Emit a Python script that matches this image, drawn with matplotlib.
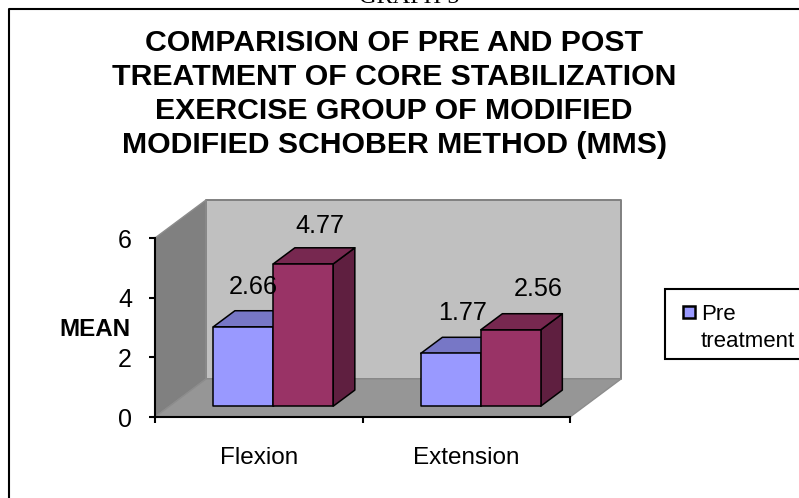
import matplotlib
matplotlib.use("Agg")
import matplotlib.pyplot as plt
from matplotlib.legend_handler import HandlerPatch
from matplotlib.lines import Line2D
from matplotlib.patches import Patch, Polygon, Rectangle

plt.rcParams['font.family'] = ['Liberation Sans', 'DejaVu Sans']

categories = ['Flexion', 'Extension']
pre_treatment = [2.66, 1.77]
post_treatment = [4.77, 2.56]
y_ticks = [0, 2, 4, 6]
title = ("COMPARISION OF PRE AND POST\nTREATMENT OF CORE STABILIZATION\n"
         "EXERCISE GROUP OF MODIFIED\nMODIFIED SCHOBER METHOD (MMS)")

W, H = 799, 498
fig = plt.figure(figsize=(W / 100, H / 100), dpi=100)
ax = fig.add_axes([155 / W, (H - 417) / H, 415 / W, 179 / H])
ax.set_xlim(0, 2)
ax.set_ylim(0, 6)

# fake 3d: depth 0 is the front axis, depth 1 the back wall
dx_depth = 51 / 207.5
dy_depth = 38 / (179 / 6)


def proj(x, y, d):
    return (x + d * dx_depth, y + d * dy_depth)


def face(pts, color, edge, lw=1.0, z=2):
    ax.add_patch(Polygon([proj(*p) for p in pts], closed=True, facecolor=color,
                         edgecolor=edge, linewidth=lw, clip_on=False, zorder=z,
                         joinstyle='round'))


face([(0, 0, 1), (2, 0, 1), (2, 6, 1), (0, 6, 1)], '#C0C0C0', '#808080', 1.4)
face([(0, 0, 0), (0, 0, 1), (0, 6, 1), (0, 6, 0)], '#808080', '#8C8C8C', 1.0)
face([(0, 0, 0), (2, 0, 0), (2, 0, 1), (0, 0, 1)], '#969696', '#8C8C8C', 1.0)


def bar3d(x0, x1, value, front, top, side, z):
    d0, d1 = 0.284, 0.708
    face([(x1, 0, d0), (x1, 0, d1), (x1, value, d1), (x1, value, d0)], side, 'black', 1.1, z)
    face([(x0, value, d0), (x1, value, d0), (x1, value, d1), (x0, value, d1)], top, 'black', 1.1, z)
    face([(x0, 0, d0), (x1, 0, d0), (x1, value, d0), (x0, value, d0)], front, 'black', 1.1, z + 0.1)


bar_w = 0.289
label_px = {(0, 0): (10, 40), (0, 1): (17, 38), (1, 0): (12, 40), (1, 1): (28, 41)}
for i in range(len(categories)):
    mid = i + 0.5
    bar3d(mid - bar_w, mid, pre_treatment[i], '#9999FF', '#7777C6', '#5F5FA0', 3)
    bar3d(mid, mid + bar_w, post_treatment[i], '#993366', '#772850', '#5F1F40', 4)
    for j, (v, xc) in enumerate([(pre_treatment[i], mid - bar_w / 2), (post_treatment[i], mid + bar_w / 2)]):
        ax.annotate(f'{v:.2f}', xy=proj(xc, v, 0.284), xytext=label_px[(i, j)],
                    textcoords='offset pixels', ha='center', va='center',
                    fontsize=18.2, color='black', zorder=8, annotation_clip=False)

for s in ['top', 'right']:
    ax.spines[s].set_visible(False)
for s in ['left', 'bottom']:
    ax.spines[s].set_linewidth(1.5)
    ax.spines[s].set_zorder(6)
ax.patch.set_visible(False)

ax.set_yticks(y_ticks)
ax.tick_params(axis='y', length=4.5, width=1.5, labelsize=18, pad=12)
ax.set_xticks([0, 1, 2])
ax.set_xticklabels([])
ax.tick_params(axis='x', which='major', length=4.5, width=1.5)
ax.set_xticks([0.5, 1.5], minor=True)
ax.set_xticklabels(categories, minor=True, fontsize=17.5)
ax.tick_params(axis='x', which='minor', length=0, pad=21.7)

fig.text(94.5 / W, (H - 329) / H, 'MEAN', fontsize=17.4, fontweight='bold', ha='center', va='center')
fig.text(394 / W, (H - 94) / H, title, fontsize=21.8, fontweight='bold', ha='center', va='center',
         linespacing=1.28)
# page caption above the chart, only its lower edge is inside the image
fig.text(409 / W, (H - 3) / H, 'GRAPH 5', fontsize=17.5, family='Liberation Serif', ha='center', va='baseline')


def first_line_box(legend, orig_handle, xdescent, ydescent, width, height, fontsize):
    # handle sits next to the first line of the two line label
    return Rectangle((5, 10.5), 8.6, 8.6)


leg = fig.legend(handles=[Patch(facecolor='#9999FF', edgecolor='black', linewidth=1.8, label='Pre\ntreatment')],
                 handler_map={Patch: HandlerPatch(patch_func=first_line_box)},
                 loc='upper left', bbox_to_anchor=(665 / W, (H - 289) / H), borderaxespad=0,
                 fancybox=False, edgecolor='black', framealpha=1, fontsize=16,
                 handlelength=1.0, handleheight=0.5, handletextpad=0.12, borderpad=0.5)
leg.get_frame().set_linewidth(1.5)
leg.get_texts()[0].set_linespacing(1.38)
leg.get_texts()[0].set_y(-3.5)

# outer chart border, runs off the image at right and bottom
fig.add_artist(Line2D([8.5 / W, 8.5 / W, 1.0], [0, (H - 9) / H, (H - 9) / H], color='black', linewidth=1.5))

fig.savefig('out.png', dpi=100)
